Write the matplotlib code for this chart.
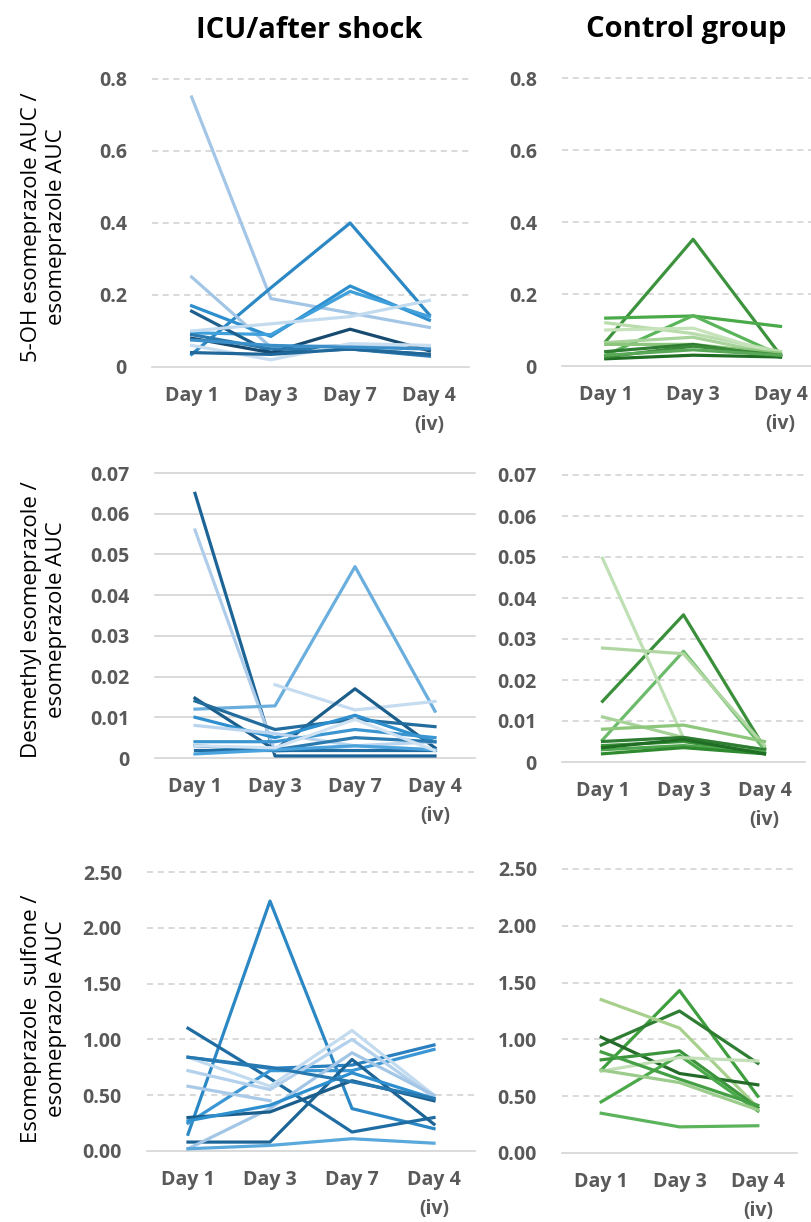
import matplotlib
matplotlib.use('Agg')
import matplotlib.pyplot as plt
import numpy as np

nan = np.nan

icu_days = ["Day 1", "Day 3", "Day 7", "Day 4\n(iv)"]
ctrl_days = ["Day 1", "Day 3", "Day 4\n(iv)"]

# 5-OH esomeprazole AUC / esomeprazole AUC
icu_oh = [
    [0.75, 0.19, 0.15, 0.11],
    [0.035, 0.22, 0.40, 0.145],
    [0.25, 0.055, 0.06, 0.05],
    [0.17, 0.085, 0.225, 0.13],
    [0.095, 0.09, 0.21, 0.14],
    [0.155, 0.04, 0.05, 0.035],
    [0.10, 0.12, 0.14, 0.185],
    [0.08, 0.04, 0.105, 0.045],
    [0.09, 0.05, 0.05, 0.03],
    [0.06, 0.02, 0.065, 0.06],
    [0.04, 0.035, 0.05, 0.035],
    [0.075, 0.06, 0.055, 0.05],
]
ctrl_oh = [
    [0.068, 0.352, 0.03],
    [0.133, 0.139, 0.11],
    [0.03, 0.14, 0.03],
    [0.12, 0.09, 0.04],
    [0.10, 0.105, 0.03],
    [0.065, 0.08, 0.03],
    [0.06, 0.06, 0.035],
    [0.04, 0.06, 0.025],
    [0.02, 0.03, 0.025],
    [0.025, 0.055, 0.03],
    [0.03, 0.045, 0.03],
]

# desmethyl esomeprazole / esomeprazole AUC
icu_dm = [
    [0.065, 0.0005, 0.0005, 0.0005],
    [0.056, 0.0016, 0.003, 0.002],
    [0.012, 0.0128, 0.047, 0.0115],
    [nan, 0.018, 0.0118, 0.0139],
    [0.0147, 0.002, 0.017, 0.0025],
    [0.014, 0.007, 0.0095, 0.0077],
    [0.010, 0.005, 0.0105, 0.004],
    [0.008, 0.006, 0.003, 0.004],
    [0.004, 0.004, 0.007, 0.005],
    [0.003, 0.002, 0.005, 0.004],
    [0.002, 0.002, 0.002, 0.002],
    [0.001, 0.002, 0.003, 0.002],
    [0.003, 0.0025, 0.0095, 0.0018],
]
ctrl_dm = [
    [0.0148, 0.0359, 0.0034],
    [0.0054, 0.027, 0.003],
    [0.0497, 0.0058, 0.0026],
    [0.0278, 0.0264, 0.004],
    [0.011, 0.006, 0.003],
    [0.008, 0.009, 0.005],
    [0.005, 0.006, 0.003],
    [0.004, 0.005, 0.002],
    [0.003, 0.004, 0.0025],
    [0.002, 0.0035, 0.002],
    [0.0035, 0.0055, 0.002],
]

# esomeprazole sulfone / esomeprazole AUC
icu_sf = [
    [0.15, 2.24, 0.38, 0.20],
    [1.10, 0.65, 0.17, 0.30],
    [0.84, 0.74, 0.77, 0.95],
    [0.25, 0.72, 0.72, 0.91],
    [0.08, 0.08, 0.82, 0.24],
    [0.84, 0.58, 1.08, 0.50],
    [0.72, 0.55, 1.00, 0.48],
    [0.58, 0.45, nan, nan],
    [0.02, 0.38, 0.88, 0.50],
    [0.02, 0.05, 0.11, 0.07],
    [0.30, 0.35, 0.63, 0.45],
    [0.27, 0.41, 0.70, 0.47],
    [0.84, 0.75, 0.62, 0.47],
]
ctrl_sf = [
    [0.73, 1.43, 0.50],
    [0.95, 1.25, 0.79],
    [1.35, 1.10, 0.40],
    [1.02, 0.70, 0.60],
    [0.82, 0.90, 0.40],
    [0.45, 0.86, 0.37],
    [0.72, 0.84, 0.81],
    [0.89, 0.65, 0.42],
    [0.35, 0.23, 0.24],
    [0.73, 0.62, 0.38],
]

oh_ticks = [0, 0.2, 0.4, 0.6, 0.8]
oh_labels = ["0", "0.2", "0.4", "0.6", "0.8"]
dm_ticks = [0, 0.01, 0.02, 0.03, 0.04, 0.05, 0.06, 0.07]
dm_labels = ["0", "0.01", "0.02", "0.03", "0.04", "0.05", "0.06", "0.07"]
sf_ticks = [0, 0.5, 1.0, 1.5, 2.0, 2.5]
sf_labels = ["0.00", "0.50", "1.00", "1.50", "2.00", "2.50"]

# colours
icu_oh_c = ['#a3c6e6', '#2b88c4', '#a3c6e6', '#2e8fcf', '#3fa0dc', '#1d5f8d',
            '#c3dbef', '#174a70', '#2a7ab0', '#c8ddf0', '#20679a', '#3b8fc8']
ctrl_oh_c = ['#3d933d', '#4aaa4a', '#5ab55a', '#b8dcab', '#c6e3bb', '#a8d39a',
             '#8cc67c', '#2e7d32', '#1f6e24', '#3a8a3a', '#58a858']
icu_dm_c = ['#1d6496', '#afcdea', '#6aaede', '#c5dbef', '#1b5e8c', '#236c9e',
            '#2e8fcf', '#b9d4ee', '#3b95d0', '#2a7ab0', '#1f6ca3', '#4aa3dc', '#cfe2f3']
ctrl_dm_c = ['#3a8f3a', '#6bbb6b', '#bfe0b4', '#b0d7a2', '#a6d197', '#8cc77c',
             '#2e7d32', '#3c943c', '#4da64d', '#2f8a2f', '#1f6e24']
icu_sf_c = ['#2b88c4', '#1f6ca3', '#2a7fbf', '#3a96d4', '#1d6496', '#c3dbef', '#b3d0ec',
            '#a9c9e8', '#a3c6e6', '#5aa9dc', '#1b5e8c', '#2e8fcf', '#2678b0']
ctrl_sf_c = ['#3f9f3f', '#2e7d32', '#a8d08d', '#246b29', '#3c943c', '#4aaa4a',
             '#c2dfb8', '#45a045', '#5cb35c', '#9ccc8c']

plt.rcParams['font.family'] = ['Open Sans', 'DejaVu Sans']

W, H = 812, 1222
fig = plt.figure(figsize=(W / 100, H / 100), dpi=100)


def panel(box, series, colors, days, ymax, ticks, labels, xmax, solid=False):
    x0, y0, x1, y1 = box
    ax = fig.add_axes([x0 / W, 1 - y1 / H, (x1 - x0) / W, (y1 - y0) / H])
    n = len(days)
    for s, c in zip(series, colors):
        ax.plot(range(n), s, color=c, lw=2.3, zorder=3)
    for t in ticks[1:]:
        ax.axhline(t, color='#cfcfcf', lw=1.1, zorder=0, clip_on=False,
                   ls='-' if solid else (0, (4, 3)))
    ax.axhline(0, color='#d4d4d4', lw=1.2, zorder=1, clip_on=False)
    ax.set_xlim(-0.5, xmax)
    ax.set_ylim(0, ymax)
    ax.set_yticks(ticks)
    ax.set_yticklabels(labels, fontweight='bold', color='#595959', fontsize=14)
    ax.set_xticks(range(n))
    ax.set_xticklabels(days, fontweight='bold', color='#595959', fontsize=14,
                       linespacing=1.55)
    ax.tick_params(axis='y', length=0, pad=18)
    ax.tick_params(axis='x', length=0, pad=14)
    for sp in ax.spines.values():
        sp.set_visible(False)
    return ax


panel((152, 79, 469, 367), icu_oh, icu_oh_c, icu_days, 0.8, oh_ticks, oh_labels, 3.5)
panel((562, 78, 812, 366), ctrl_oh, ctrl_oh_c, ctrl_days, 0.8, oh_ticks, oh_labels, 2.36)
panel((155, 473, 475, 758), icu_dm, icu_dm_c, icu_days, 0.07, dm_ticks, dm_labels, 3.5, solid=True)
panel((562, 475, 805, 762), ctrl_dm, ctrl_dm_c, ctrl_days, 0.07, dm_ticks, dm_labels, 2.5)
panel((147, 872, 475, 1151), icu_sf, icu_sf_c, icu_days, 2.5, sf_ticks, sf_labels, 3.5)
panel((562, 869, 797, 1153), ctrl_sf, ctrl_sf_c, ctrl_days, 2.5, sf_ticks, sf_labels, 2.5)

fig.text(309 / W, 1 - 30 / H, "ICU/after shock", ha='center', va='center',
         fontsize=21, fontweight='bold')
fig.text(686 / W, 1 - 30 / H, "Control group", ha='center', va='center',
         fontsize=21, fontweight='bold')

ylabels = [("5-OH esomeprazole AUC /\nesomeprazole AUC", 227),
           ("Desmethyl esomeprazole /\nesomeprazole AUC", 620),
           ("Esomeprazole  sulfone /\nesomeprazole AUC", 1019)]
for txt, yc in ylabels:
    fig.text(44 / W, 1 - yc / H, txt, rotation=90, ha='center', va='center',
             fontsize=16, linespacing=1.2, color='black')

fig.savefig('out.png', dpi=100)
